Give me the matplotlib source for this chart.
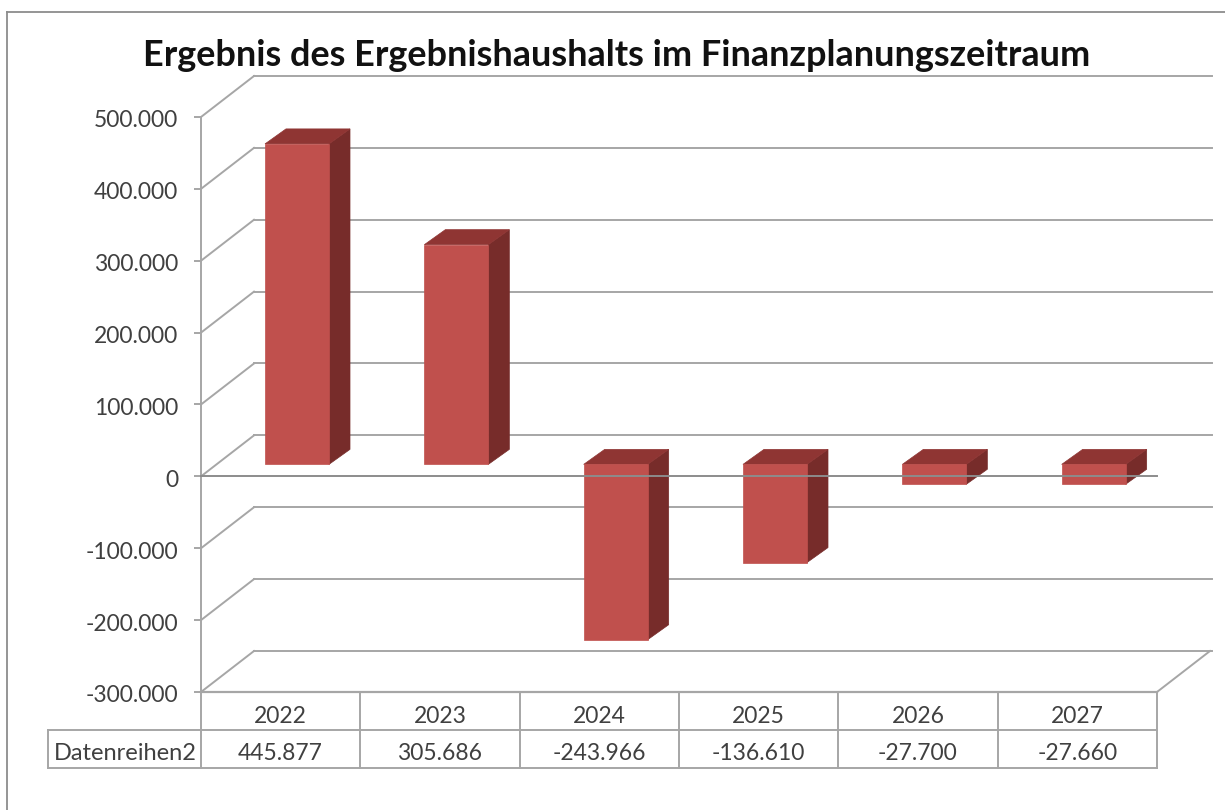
import matplotlib
matplotlib.use('Agg')
import matplotlib.pyplot as plt
from matplotlib.patches import Polygon
from matplotlib.transforms import ScaledTranslation

plt.rcParams['font.family'] = ['Lato', 'DejaVu Sans']

title = 'Ergebnis des Ergebnishaushalts im Finanzplanungszeitraum'
series_name = 'Datenreihen2'
years = ['2022', '2023', '2024', '2025', '2026', '2027']
values = [445877, 305686, -243966, -136610, -27700, -27660]
value_labels = ['445.877', '305.686', '-243.966', '-136.610', '-27.700', '-27.660']
y_ticks = [-300000, -200000, -100000, 0, 100000, 200000, 300000, 400000, 500000]
y_labels = ['-300.000', '-200.000', '-100.000', '0', '100.000', '200.000', '300.000', '400.000', '500.000']

W, H = 1225, 810
GRID = '#a6a6a6'
TEXT = '#404040'
FRONT = '#c0504d'
SIDE = '#772c2a'
TOP = '#8f3533'

# pixel sizes of the fake 3d box, turned into data units below
PX_X = 956 / 6
PX_Y = 575 / 800000


def dx(px):
    return px / PX_X


def dy(px):
    return px / PX_Y


fig = plt.figure(figsize=(W / 100, H / 100), dpi=100)
ax = fig.add_axes([201 / W, 1 - 692 / H, 956 / W, 575 / H])
ax.set_xlim(0, 6)
ax.set_ylim(-300000, 500000)
ax.patch.set_visible(False)
for name in ['top', 'right', 'bottom']:
    ax.spines[name].set_visible(False)
ax.spines['left'].set_color(GRID)
ax.spines['left'].set_linewidth(1.4)
ax.set_xticks([])
ax.set_yticks(y_ticks)
ax.set_yticklabels(y_labels, fontsize=16.5, color=TEXT)
ax.tick_params(axis='y', length=5, width=1.4, color=GRID, pad=11.5)
for tick_label in ax.get_yticklabels():
    tick_label.set_transform(tick_label.get_transform() + ScaledTranslation(0, -2 / 100, fig.dpi_scale_trans))

# back wall and side wall
for v in y_ticks:
    ax.plot([dx(53), 6 + dx(55)], [v + dy(41), v + dy(41)], color=GRID, lw=1.4, clip_on=False, zorder=1)
    ax.plot([0, dx(53)], [v, v + dy(41)], color=GRID, lw=1.4, clip_on=False, zorder=1)
ax.plot([6, 6 + dx(53)], [-300000, -300000 + dy(41)], color=GRID, lw=1.4, clip_on=False, zorder=1)

# bars
for i, v in enumerate(values):
    x0 = i + dx(64)
    x1 = x0 + dx(64)
    base = dy(12)
    end = v + base
    high = max(base, end)
    low = min(base, end)
    ddx, ddy = dx(21), dy(15)
    ax.add_patch(Polygon([(x1, low), (x1 + ddx, low + ddy), (x1 + ddx, high + ddy), (x1, high)],
                         fc=SIDE, ec=SIDE, lw=0.5, zorder=3, clip_on=False))
    ax.add_patch(Polygon([(x0, high), (x1, high), (x1 + ddx, high + ddy), (x0 + ddx, high + ddy)],
                         fc=TOP, ec=TOP, lw=0.5, zorder=3, clip_on=False))
    ax.add_patch(Polygon([(x0, low), (x1, low), (x1, high), (x0, high)],
                         fc=FRONT, ec=FRONT, lw=0.5, zorder=4, clip_on=False))

# zero line runs over the bars
ax.plot([0, 6], [0, 0], color='#8c8c8c', lw=1.4, zorder=5, clip_on=False)

# data table under the plot
row1 = -300000 - dy(38)
row2 = -300000 - dy(76)
text_y1 = (row1 - 300000) / 2 - dy(5.5)
text_y2 = (row1 + row2) / 2 - dy(4)
ax.plot([0, 6], [-300000, -300000], color=GRID, lw=1.6, clip_on=False, zorder=2)
ax.plot([-dx(153), 6], [row1, row1], color=GRID, lw=1.4, clip_on=False)
ax.plot([-dx(153), 6], [row2, row2], color=GRID, lw=1.4, clip_on=False)
ax.plot([-dx(153), -dx(153)], [row1, row2], color=GRID, lw=1.4, clip_on=False)
for i in range(7):
    ax.plot([i, i], [-300000, row2], color=GRID, lw=1.4, clip_on=False)
for i, (year, label) in enumerate(zip(years, value_labels)):
    ax.text(i + 0.5, text_y1, year, ha='center', va='center', fontsize=16.5, color=TEXT)
    ax.text(i + 0.5, text_y2, label, ha='center', va='center', fontsize=16.5, color=TEXT)
ax.text(-dx(76), text_y2, series_name, ha='center', va='center', fontsize=17, color=TEXT)

fig.text(617 / W, 1 - 55 / H, title, ha='center', va='center', fontsize=25.9, fontweight='bold', color='#111111')

# chart frame, cropped at right and bottom
fig.add_artist(plt.Line2D([7 / W, 7 / W], [0, 1 - 12 / H], color='#8c8c8c', lw=1.3))
fig.add_artist(plt.Line2D([7 / W, 1], [1 - 12 / H, 1 - 12 / H], color='#8c8c8c', lw=1.3))

fig.savefig('out.png', dpi=100)
